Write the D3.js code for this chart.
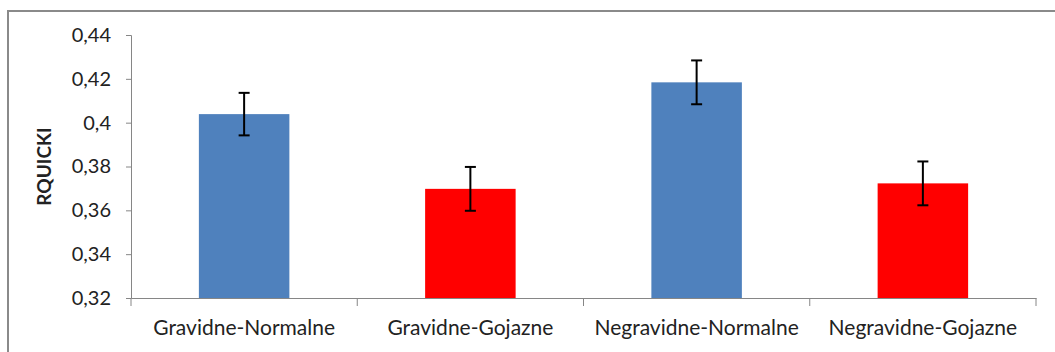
<!DOCTYPE html>
<html>
<head>
<meta charset="utf-8">
<script src="https://cdn.jsdelivr.net/npm/d3@7"></script>
<style>
  html, body { margin: 0; padding: 0; background: #fff; }
  svg { display: block; }
</style>
</head>
<body>
<script>
const categories = ["Gravidne-Normalne", "Gravidne-Gojazne", "Negravidne-Normalne", "Negravidne-Gojazne"];
const values = [0.4039, 0.3698, 0.4184, 0.3723];
const errors = [0.0097, 0.0100, 0.0100, 0.0100];
const colors = ["#4F81BD", "#FF0000", "#4F81BD", "#FF0000"];
const yTicks = [0.32, 0.34, 0.36, 0.38, 0.40, 0.42, 0.44];
const yTickLabels = ["0,32", "0,34", "0,36", "0,38", "0,4", "0,42", "0,44"];
const yTitle = "RQUICKI";

const W = 1055, H = 352;
const svg = d3.select("body").append("svg").attr("width", W).attr("height", H);

// outer chart border
svg.append("rect")
  .attr("x", 8).attr("y", 11).attr("width", 1060).attr("height", 360)
  .attr("fill", "none").attr("stroke", "#8a8a8a").attr("stroke-width", 2);

const mLeft = 131, mRight = 1036, mTop = 35, mBottom = 298;
const x = d3.scaleBand().domain(categories).range([mLeft, mRight]).padding(0);
const y = d3.scaleLinear().domain([0.32, 0.44]).range([mBottom, mTop]);
const barW = x.bandwidth() * 0.4;
const font = "Lato, 'Open Sans', sans-serif";

// y axis
const yAxis = svg.append("g").attr("transform", `translate(${mLeft},0)`)
  .call(d3.axisLeft(y).tickValues(yTicks).tickFormat((d, i) => yTickLabels[i]).tickSize(5).tickPadding(15));
yAxis.select(".domain").attr("stroke", "#868686");
yAxis.selectAll(".tick line").attr("stroke", "#868686");
yAxis.selectAll("text").attr("font-family", font).attr("font-size", 20).attr("fill", "#222");

// x axis
const xAxis = svg.append("g").attr("transform", `translate(0,${mBottom})`)
  .call(d3.axisBottom(x).tickSize(0).tickPadding(22));
xAxis.select(".domain").attr("stroke", "#868686");
xAxis.selectAll("text").attr("font-family", font).attr("font-size", 21).attr("fill", "#222");
// boundary ticks
const bounds = categories.map(c => x(c)).concat([x(categories[categories.length - 1]) + x.bandwidth()]);
svg.append("g").selectAll("line").data(bounds).join("line")
  .attr("x1", d => d).attr("x2", d => d)
  .attr("y1", mBottom).attr("y2", mBottom + 8)
  .attr("stroke", "#868686");

// bars
svg.append("g").selectAll("rect").data(categories).join("rect")
  .attr("x", d => x(d) + x.bandwidth() / 2 - barW / 2)
  .attr("y", (d, i) => y(values[i]))
  .attr("width", barW)
  .attr("height", (d, i) => mBottom - y(values[i]))
  .attr("fill", (d, i) => colors[i]);

// error bars
const eg = svg.append("g").attr("stroke", "#000").attr("stroke-width", 2);
categories.forEach((c, i) => {
  const cx = x(c) + x.bandwidth() / 2;
  const y1 = y(values[i] + errors[i]), y2 = y(values[i] - errors[i]);
  eg.append("line").attr("x1", cx).attr("x2", cx).attr("y1", y1).attr("y2", y2);
  eg.append("line").attr("x1", cx - 5.5).attr("x2", cx + 5.5).attr("y1", y1).attr("y2", y1);
  eg.append("line").attr("x1", cx - 5.5).attr("x2", cx + 5.5).attr("y1", y2).attr("y2", y2);
});

// y title
svg.append("text")
  .attr("transform", `translate(51,${(mTop + mBottom) / 2}) rotate(-90)`)
  .attr("text-anchor", "middle")
  .attr("font-family", font).attr("font-weight", "bold").attr("font-size", 19)
  .attr("fill", "#222")
  .text(yTitle);
</script>
</body>
</html>
